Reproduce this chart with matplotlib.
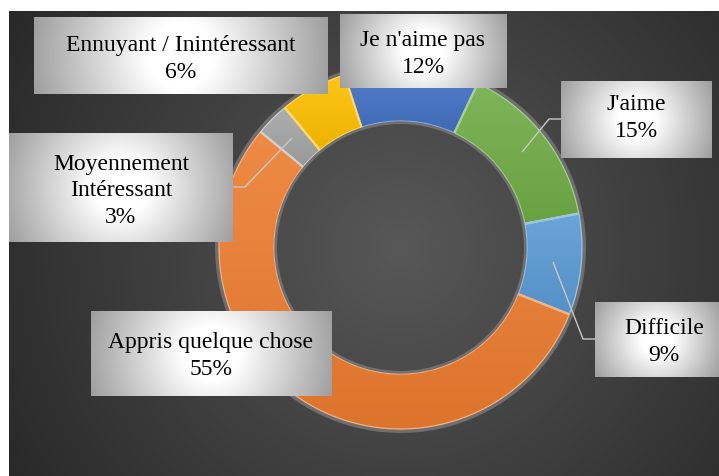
import numpy as np
import matplotlib
matplotlib.use("Agg")
import matplotlib.pyplot as plt
from matplotlib.colors import to_rgb
from matplotlib.patches import Circle

# ---------------- data ----------------
labels = ["Je n'aime pas", "J'aime", "Difficile", "Appris quelque chose",
          "Moyennement\nIntéressant", "Ennuyant / Inintéressant"]
values = [12, 15, 9, 55, 3, 6]
colors = ["#4472C4", "#70AD47", "#5B9BD5", "#ED7D31", "#A5A5A5", "#FFC000"]
edge_colors = ["#8FAADC", "#A9D18E", "#9DC3E6", "#F4B183", "#CFCFCF", "#FFD966"]

# ---------------- layout (pixel coords, y from top) ----------------
W, H = 719, 477
CX, CY = 400.5, 248.5
R_OUT, R_IN = 182, 126
# label boxes: x0, y0(top), x1, y1(bottom)
boxes = [(340, 15, 507, 89), (561, 82, 712, 159), (595, 303, 719, 378),
         (91, 312, 332, 397), (9, 134, 233, 243), (34, 18, 328, 95)]
text_pos = [(423, 54), (636, 118), (664, 342), (211, 356), (121, 191), (181, 59)]
leaders = [None,
           [(522, 153), (549, 120), (561, 120)],
           [(553, 263), (583, 340), (595, 340)],
           None,
           [(292, 139), (245, 188), (233, 188)],
           None]

def Y(y):
    return H - y

fig = plt.figure(figsize=(W / 100, H / 100), dpi=100)
fig.patch.set_facecolor("white")
ax = fig.add_axes([0, 0, 1, 1])

# background radial gradient (dark)
bx0, bx1, by0, by1 = 9, W, 0, Y(12)
nx, ny = int(bx1 - bx0), int(by1 - by0)
xs = np.linspace(bx0, bx1, nx)
ys = np.linspace(by1, by0, ny)
XX, YY = np.meshgrid(xs, ys)
d = np.hypot(XX - CX, YY - Y(CY))
t = np.clip(d / 480.0, 0, 1)
v = 0.345 + (0.150 - 0.345) * t
bg = np.dstack([v, v, v])
ax.imshow(bg, extent=(bx0, bx1, by0, by1), origin="upper", aspect="auto",
          zorder=0, interpolation="bilinear")

# donut
wedges, _ = ax.pie(values, colors=colors, startangle=108, counterclock=False,
                   center=(CX, Y(CY)), radius=R_OUT, frame=True,
                   wedgeprops=dict(width=R_OUT - R_IN, linewidth=1.6))

for w, c, ec in zip(wedges, colors, edge_colors):
    bb = w.get_path().get_extents()
    rgb = np.array(to_rgb(c))
    top = rgb + (1 - rgb) * 0.10
    bot = rgb * 0.93
    tt = np.linspace(0, 1, 64)[:, None]
    grad = top[None, :] * (1 - tt) + bot[None, :] * tt
    grad = np.repeat(grad[:, None, :], 2, axis=1)
    im = ax.imshow(grad, extent=(bb.x0, bb.x1, bb.y0, bb.y1), origin="upper",
                   aspect="auto", zorder=2, interpolation="bilinear")
    im.set_clip_path(w)
    w.set_facecolor("none")
    w.set_edgecolor(ec)
    w.set_zorder(3)

# ring borders
ax.add_patch(Circle((CX, Y(CY)), R_OUT + 1.8, fill=False, ec="#6e6e6e", lw=2.4, zorder=4))
ax.add_patch(Circle((CX, Y(CY)), R_IN - 1.2, fill=False, ec="#707070", lw=2.0, zorder=4))

# leader lines
for pts in leaders:
    if pts is None:
        continue
    ax.plot([p[0] for p in pts], [Y(p[1]) for p in pts], color="#c8c8c8",
            lw=1.0, zorder=4.5, solid_capstyle="butt")

# label boxes with radial gradient
for (x0, y0, x1, y1) in boxes:
    w_, h_ = x1 - x0, y1 - y0
    gx = np.linspace(-w_ / 2, w_ / 2, int(w_))
    gy = np.linspace(-h_ / 2, h_ / 2, int(h_))
    GX, GY = np.meshgrid(gx, gy)
    Rr = np.hypot(w_ / 2, h_ / 2)
    tt = np.clip((np.hypot(GX, GY) / Rr - 0.22) / 0.78, 0, 1)
    vv = 1 - 0.38 * tt
    img = np.dstack([vv, vv, vv])
    ax.imshow(img, extent=(x0, x1, Y(y1), Y(y0)), origin="upper", aspect="auto",
              zorder=5, interpolation="bilinear")

# label texts
for lab, val, (tx, ty) in zip(labels, values, text_pos):
    ax.text(tx, Y(ty), f"{lab}\n{val}%", ha="center", va="center",
            fontsize=17, family="Liberation Serif", color="black",
            linespacing=1.37, zorder=6)

ax.set_xlim(0, W)
ax.set_ylim(0, H)
ax.set_aspect("auto")
ax.axis("off")

fig.savefig("out.png", dpi=100, facecolor="white")
